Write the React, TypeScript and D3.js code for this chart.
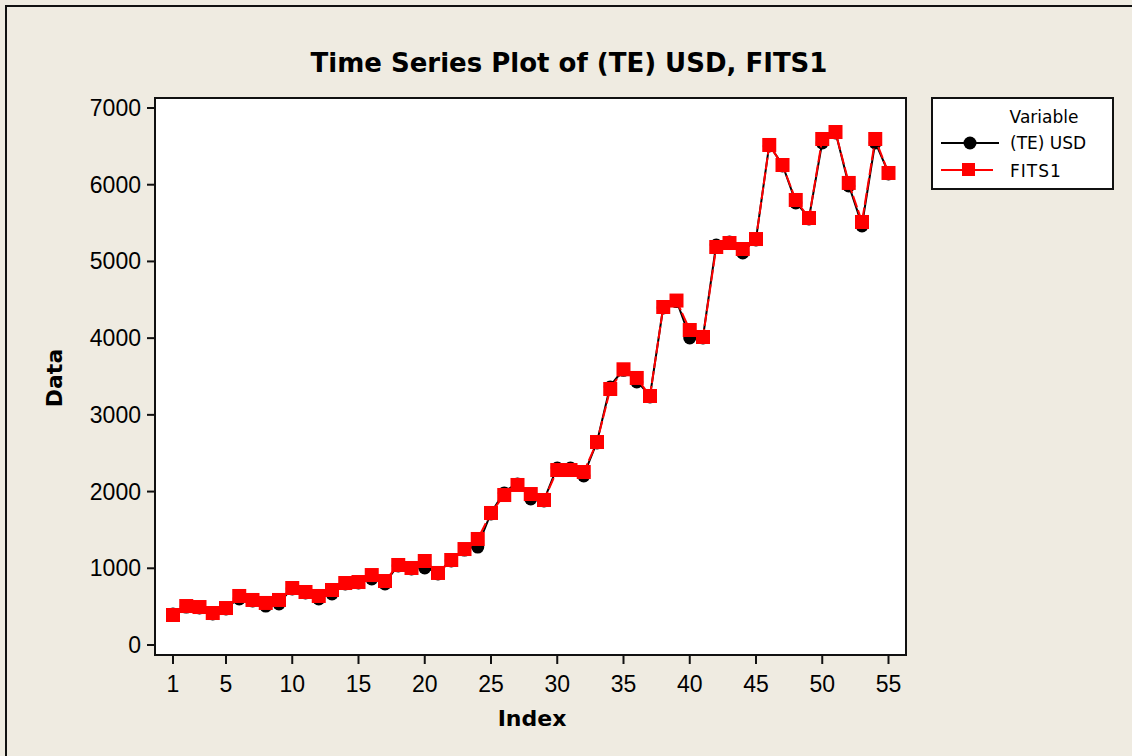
import React from "react";
import * as d3 from "d3";

const indexValues: number[] = Array.from({ length: 55 }, (_, i) => i + 1);

const teUsd: number[] = [
  417, 508, 495, 417, 482, 613, 587, 521, 548, 743,
  691, 613, 678, 808, 821, 873, 808, 1043, 1004, 1017,
  939, 1108, 1251, 1290, 1721, 1995, 2112, 1916, 1890, 2320,
  2320, 2216, 2646, 3376, 3594, 3442, 3246, 4406, 4490, 4015,
  4015, 5227, 5266, 5123, 5292, 6518, 6257, 5775, 5566, 6557,
  6687, 5997, 5475, 6557, 6153,
];

const fits1: number[] = [
  391, 508, 495, 417, 482, 639, 587, 548, 587, 743,
  691, 639, 717, 808, 821, 912, 834, 1043, 1004, 1095,
  939, 1108, 1251, 1382, 1721, 1955, 2086, 1968, 1890, 2281,
  2281, 2255, 2646, 3337, 3594, 3481, 3246, 4406, 4490, 4106,
  4015, 5188, 5240, 5162, 5292, 6518, 6257, 5801, 5566, 6596,
  6687, 6023, 5514, 6596, 6153,
];

const xTicks: number[] = [1, 5, 10, 15, 20, 25, 30, 35, 40, 45, 50, 55];
const yTicks: number[] = [0, 1000, 2000, 3000, 4000, 5000, 6000, 7000];

const seriesNames = ["(TE) USD", "FITS1"];
const titleText = "Time Series Plot of (TE) USD, FITS1";

export default function App() {
  const W = 1132;
  const H = 756;
  const frame = { left: 155, right: 906, top: 98, bottom: 655 };
  const x = d3.scaleLinear().domain([1, 55]).range([173, 888.5]);
  const y = d3.scaleLinear().domain([0, 7000]).range([645, 108]);

  const line = d3
    .line<number>()
    .x((_, i) => x(indexValues[i]))
    .y((d) => y(d));

  const tickFont = "'Liberation Sans', Arial, sans-serif";
  const boldFont = "'DejaVu Sans', Verdana, sans-serif";
  const bg = "#EFEBE1";

  return (
    <svg
      width={W}
      height={H}
      style={{ position: "absolute", left: 0, top: 0, display: "block" }}
    >
      <rect x={0} y={0} width={W} height={H} fill={bg} />
      <line x1={5} y1={6} x2={W} y2={6} stroke="#111" strokeWidth={2} />
      <line x1={6} y1={5} x2={6} y2={H} stroke="#111" strokeWidth={2} />

      <text
        x={569}
        y={72}
        textAnchor="middle"
        fontFamily={boldFont}
        fontWeight="bold"
        fontSize={26}
        fill="#000"
      >
        {titleText}
      </text>

      <rect
        x={frame.left}
        y={frame.top}
        width={frame.right - frame.left}
        height={frame.bottom - frame.top}
        fill="#fff"
        stroke="#111"
        strokeWidth={2}
      />

      {yTicks.map((t) => (
        <g key={"y" + t}>
          <line x1={frame.left - 8} x2={frame.left} y1={y(t)} y2={y(t)} stroke="#111" strokeWidth={2} />
          <text
            x={frame.left - 14}
            y={y(t) + 8}
            textAnchor="end"
            fontFamily={tickFont}
            fontSize={23}
            fill="#000"
          >
            {t}
          </text>
        </g>
      ))}

      {xTicks.map((t) => (
        <g key={"x" + t}>
          <line x1={x(t)} x2={x(t)} y1={frame.bottom} y2={frame.bottom + 9} stroke="#111" strokeWidth={2} />
          <text
            x={x(t)}
            y={frame.bottom + 37}
            textAnchor="middle"
            fontFamily={tickFont}
            fontSize={23}
            fill="#000"
          >
            {t}
          </text>
        </g>
      ))}

      <text
        x={532}
        y={726}
        textAnchor="middle"
        fontFamily={boldFont}
        fontWeight="bold"
        fontSize={22}
        fill="#000"
      >
        Index
      </text>
      <text
        transform={`translate(62,378) rotate(-90)`}
        textAnchor="middle"
        fontFamily={boldFont}
        fontWeight="bold"
        fontSize={22}
        fill="#000"
      >
        Data
      </text>

      <path d={line(teUsd) || ""} fill="none" stroke="#000" strokeWidth={2} />
      {teUsd.map((v, i) => (
        <circle key={"c" + i} cx={x(indexValues[i])} cy={y(v) + 1} r={6.5} fill="#000" />
      ))}
      <path
        d={line(fits1) || ""}
        fill="none"
        stroke="#FF0000"
        strokeWidth={2}
        strokeDasharray="12 3"
      />
      {fits1.map((v, i) => (
        <rect
          key={"s" + i}
          x={x(indexValues[i]) - 7}
          y={y(v) - 7}
          width={14}
          height={14}
          fill="#FF0000"
        />
      ))}

      <g>
        <rect x={932} y={98} width={181} height={91} fill="#fff" stroke="#111" strokeWidth={2} />
        <text x={1044} y={123} textAnchor="middle" fontFamily={boldFont} fontSize={17} fill="#000">
          Variable
        </text>
        <line x1={941} x2={999} y1={143} y2={143} stroke="#000" strokeWidth={2} />
        <circle cx={970} cy={143} r={6.5} fill="#000" />
        <text x={1010} y={149} fontFamily={boldFont} fontSize={17} fill="#000">
          {seriesNames[0]}
        </text>
        <line x1={941} x2={993} y1={170} y2={170} stroke="#FF0000" strokeWidth={2} />
        <rect x={962} y={163} width={13} height={13} fill="#FF0000" />
        <text x={1010} y={177} fontFamily={boldFont} fontSize={17} fill="#000" letterSpacing={1}>
          {seriesNames[1]}
        </text>
      </g>
    </svg>
  );
}
